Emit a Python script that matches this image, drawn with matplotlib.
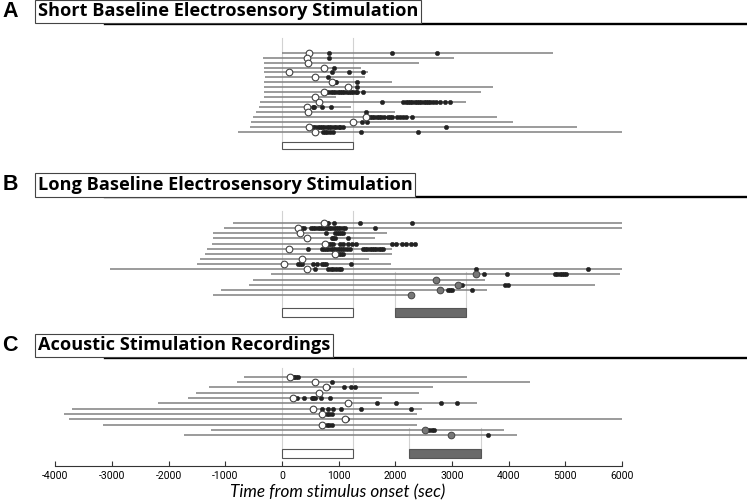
import matplotlib
matplotlib.use("Agg")
import matplotlib.pyplot as plt
from matplotlib.patches import Rectangle

# ---------------- data (seconds from stimulus onset) ----------------
A_start = [0, -330, -310, -310, -310, -300, -310, -310, -310, -320, -390, -400, -460, -510, -540, -570, -770]
A_end = [4780, 3030, 2410, 1390, 1510, 1470, 1940, 3720, 3510, 950, 3240, 1220, 2000, 3800, 4070, 5200, 6000]
A_open = [480, 435, 455, 740, 130, 590, 890, 1170, 740, 590, 660, 435, 455, 1490, 1250, 480, 575]
A_events = [
    [830, 1950, 2740],
    [825],
    [],
    [920],
    [875, 1190, 1435],
    [810],
    [935, 960, 1320],
    [1320],
    [780, 820, 860, 900, 940, 980, 1020, 1060, 1100, 1140, 1180, 1220, 1260, 1300, 1330, 1435],
    [],
    [1770, 2140, 2180, 2220, 2260, 2300, 2340, 2380, 2420, 2460, 2500, 2540, 2580, 2620, 2660, 2710, 2790, 2880, 2960],
    [540, 565, 710, 870],
    [1475],
    [1510, 1550, 1590, 1630, 1670, 1710, 1750, 1800, 1870, 1910, 1950, 2030, 2080, 2140, 2190, 2290],
    [1415, 1495],
    [510, 550, 590, 630, 670, 710, 750, 790, 830, 870, 910, 950, 1000, 1030, 1070, 2895],
    [720, 760, 800, 845, 895, 1395, 2400],
]

B_start = [-870, -1020, -1210, -1220, -1240, -1320, -1360, -1450, -1500, -3030, -190, -510, -580, -1080, -1210]
B_end = [6000, 6000, 1850, 1650, 2380, 1935, 1935, 1540, 1925, 6000, 5960, 3580, 5520, 3620, 2260]
B_open = [740, 275, 320, 445, 760, 130, 940, 355, 40, 450, None, None, None, None, None]
B_gray = [None, None, None, None, None, None, None, None, None, None, 3415, 2715, 3100, 2780, 2268]
B_events = [
    [790, 820, 925, 1385, 2300],
    [320, 350, 380, 510, 550, 590, 630, 670, 710, 750, 790, 830, 870, 910, 950, 990, 1030, 1070, 1110, 1645],
    [776, 935, 970, 1005, 1040, 1070],
    [876, 905, 935, 1160],
    [790, 830, 870, 905, 1015, 1085, 1160, 1230, 1300, 1935, 2020, 2110, 2190, 2270, 2345],
    [465, 700, 740, 780, 820, 860, 900, 940, 980, 1020, 1060, 1100, 1140, 1200,
     1425, 1465, 1505, 1545, 1585, 1625, 1665, 1705, 1745, 1790],
    [965, 1000, 1035, 1070],
    [],
    [290, 320, 350, 555, 610, 700, 740, 776, 1210],
    [575, 820, 860, 900, 950, 1000, 1050, 3420, 5395],
    [3570, 3965, 4820, 4860, 4900, 4940, 4980, 5020],
    [],
    [3178, 3935, 3995],
    [2935, 2965, 3005, 3355],
    [],
]

C_start = [-665, -790, -1290, -1510, -1650, -2180, -3700, -3850, -3750, -3150, -1250, -1730]
C_end = [3260, 4380, 2670, 2410, 1760, 3450, 2470, 2380, 6000, 2380, 3910, 4140]
C_open = [140, 580, 780, 660, 200, 1170, 550, 710, 1110, 710, None, None]
C_gray = [None, None, None, None, None, None, None, None, None, None, 2530, 2990]
C_events = [
    [190, 220, 250, 290],
    [880],
    [820, 1100, 1220, 1290],
    [],
    [260, 380, 525, 555, 585, 685, 845],
    [1670, 2010, 2800, 3095],
    [710, 805, 895, 1035, 1400, 2280],
    [790, 835, 880],
    [1155],
    [790, 835, 880],
    [2590, 2640, 2685],
    [3640],
]

titles = ["Short Baseline Electrosensory Stimulation",
          "Long Baseline Electrosensory Stimulation",
          "Acoustic Stimulation Recordings"]
letters = ["A", "B", "C"]
stim_period = [0, 1250]
post_periods = [None, [1990, 3255], [2240, 3512]]
xticks = [-4000, -3000, -2000, -1000, 0, 1000, 2000, 3000, 4000, 5000, 6000]

# ---------------- layout (pixels) ----------------
W, H = 747, 501
fig = plt.figure(figsize=(W / 100, H / 100), dpi=100)
x0, x1, yax = 55.3, 622.0, 465.7
ax = fig.add_axes([x0 / W, (H - yax) / H, (x1 - x0) / W, yax / H])
ax.set_xlim(-4000, 6000)
ax.set_ylim(yax, 0)

panels = [
    dict(start=A_start, end=A_end, opn=A_open, gray=[None] * len(A_start), ev=A_events,
         row0=52.7, dy=4.94, vtop=38, box=(141.7, 7.6), ptop=None, tc=11.5),
    dict(start=B_start, end=B_end, opn=B_open, gray=B_gray, ev=B_events,
         row0=223.0, dy=5.14, vtop=211, box=(308.0, 8.7), ptop=271.7, tc=185),
    dict(start=C_start, end=C_end, opn=C_open, gray=C_gray, ev=C_events,
         row0=376.7, dy=5.33, vtop=368, box=(449.3, 8.4), ptop=428, tc=345.5),
]

line_col = "#808080"
for k, p in enumerate(panels):
    by, bh = p["box"]
    # guide lines
    for xv in stim_period:
        ax.plot([xv, xv], [p["vtop"], by], color="#d2d2d2", lw=0.8, zorder=1)
    ax.add_patch(Rectangle((stim_period[0], by), stim_period[1] - stim_period[0], bh,
                           facecolor="white", edgecolor="#555555", lw=0.8, zorder=3))
    if post_periods[k] is not None:
        a, b = post_periods[k]
        for xv in (a, b):
            ax.plot([xv, xv], [p["ptop"], by], color="#d2d2d2", lw=0.8, zorder=1)
        ax.add_patch(Rectangle((a, by), b - a, bh, facecolor="#6a6a6a",
                               edgecolor="#555555", lw=0.8, zorder=3))
    for i in range(len(p["start"])):
        y = p["row0"] + i * p["dy"]
        ax.plot([p["start"][i], p["end"][i]], [y, y], color=line_col, lw=1.1,
                solid_capstyle="butt", zorder=2)
        if p["ev"][i]:
            ax.plot(p["ev"][i], [y] * len(p["ev"][i]), "o", ms=3.2, mfc="#222222",
                    mec="#222222", mew=0.3, zorder=4)
        if p["opn"][i] is not None:
            ax.plot([p["opn"][i]], [y], "o", ms=4.8, mfc="white", mec="#444444",
                    mew=0.8, zorder=5)
        if p["gray"][i] is not None:
            ax.plot([p["gray"][i]], [y], "o", ms=4.8, mfc="#777777", mec="#444444",
                    mew=0.7, zorder=5)

    # titles
    tc = p["tc"]
    fig.text(10 / W, 1 - tc / H, letters[k], fontsize=15.5, fontweight="bold",
             family="Liberation Sans", ha="center", va="center")
    fig.lines.append(plt.Line2D([105 / W, 1.0], [1 - (tc + 12.3) / H] * 2,
                                transform=fig.transFigure, color="black", lw=1.7))
    fig.text(38 / W, 1 - tc / H, titles[k], fontsize=13.1, fontweight="bold",
             family="Open Sans", ha="left", va="center",
             bbox=dict(boxstyle="square,pad=0.15", facecolor="white",
                       edgecolor="#444444", lw=0.8))

for s in ["top", "left", "right"]:
    ax.spines[s].set_visible(False)
ax.spines["bottom"].set_color("#333333")
ax.spines["bottom"].set_linewidth(0.8)
ax.set_yticks([])
ax.set_xticks(xticks)
ax.set_xticklabels([str(t) for t in xticks], family="Roboto", fontsize=7.5)
ax.tick_params(axis="x", direction="in", length=3.6, width=0.8, color="#333333", pad=4)
ax.patch.set_visible(False)

fig.text(338 / W, 1 - 492 / H, "Time from stimulus onset (sec)", fontsize=12.3,
         style="italic", family="Lato", ha="center", va="center")

fig.savefig("out.png", dpi=100)
